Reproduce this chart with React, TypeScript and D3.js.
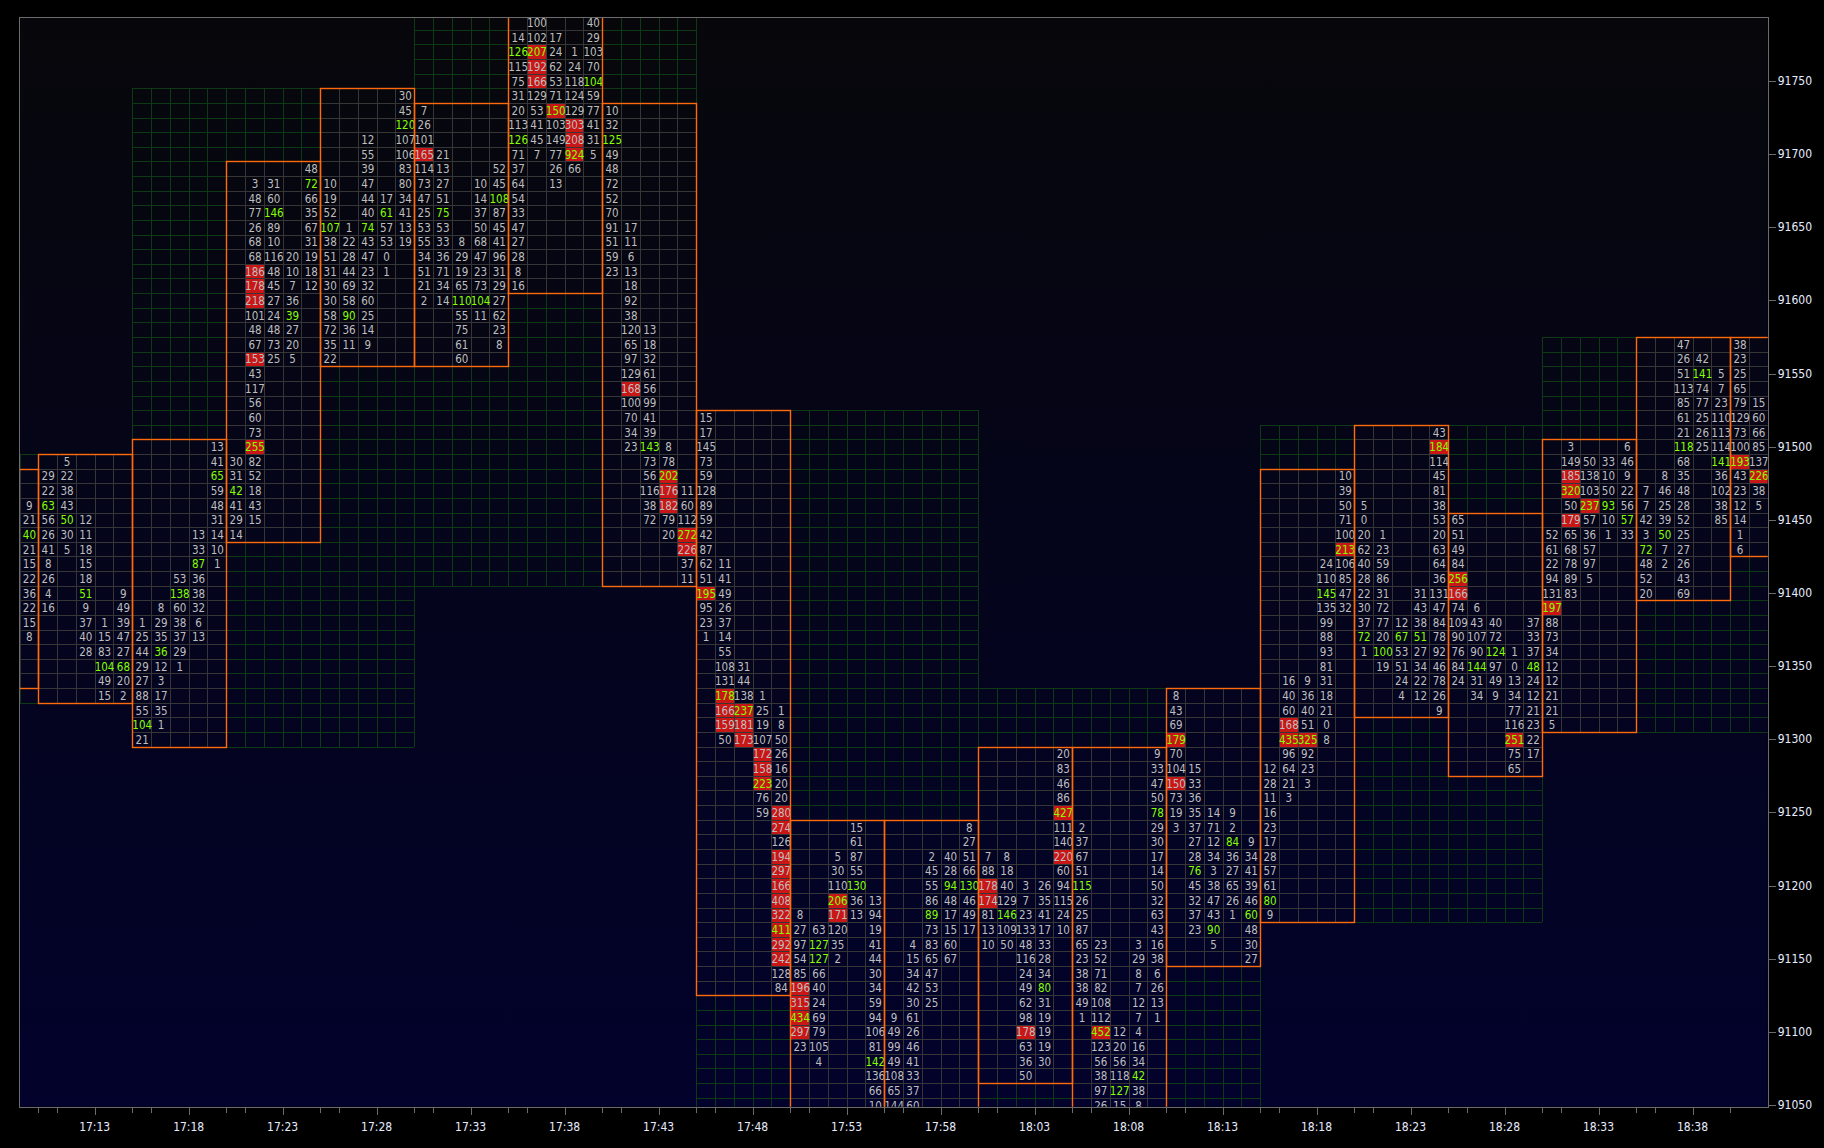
import React, { useEffect } from 'react';
import * as d3 from 'd3';

// ---------- DATA ----------
// minutes after 17:00 for axis domain (first visible minute column .. right edge)
const MINUTE_DOMAIN = [9, 102];
const PRICE_TICKS = [91050, 91100, 91150, 91200, 91250, 91300, 91350, 91400, 91450, 91500, 91550, 91600, 91650, 91700, 91750];

// 15-minute ranges (green grid): start minute, high, low
const BLOCK_STARTS = [0, 15, 30, 45, 60, 75, 90];
const BLOCK_HIGHS = [91490, 91740, 91800, 91520, 91330, 91510, 91570];
const BLOCK_LOWS = [91330, 91300, 91410, 91040, 91040, 91180, 91310];

// 5-minute footprint bars. Cells: "." empty, "+" green text, "*" red cell, "!" red cell + green text
const bar1705 = [
  '. . . . .', '. . . . .', '. . . . 9', '. . . . 21', '. . . . 40+', '. . . . 21', '. . . . 15', '. . . . 22',
  '. . . . 36', '. . . . 22', '. . . . 15', '. . . . 8', '. . . . .', '. . . . .', '. . . . .',
];
const bar1710 = [
  '. 5 . . .', '29 22 . . .', '22 38 . . .', '63+ 43 . . .', '56 50+ 12 . .', '26 30 11 . .', '41 5 18 . .',
  '8 . 15 . .', '26 . 18 . .', '4 . 51+ . 9', '16 . 9 . 49', '. . 37 1 39', '. . 40 15 47', '. . 28 83 27',
  '. . . 104+ 68+', '. . . 49 20', '. . . 15 2',
];
const bar1715 = [
  '. . . . 13', '. . . . 41', '. . . . 65+', '. . . . 59', '. . . . 48', '. . . . 31', '. . . 13 14', '. . . 33 10',
  '. . . 87+ 1', '. . 53 36 .', '. . 138+ 38 .', '. 8 60 32 .', '1 29 38 6 .', '25 35 37 13 .', '44 36+ 29 . .',
  '29 12 1 . .', '27 3 . . .', '88 17 . . .', '55 35 . . .', '104+ 1 . . .', '21 . . . .',
];
const bar1720 = [
  '. . . . 48', '. 3 31 . 72+', '. 48 60 . 66', '. 77 146+ . 35', '. 26 89 . 67', '. 68 10 . 31', '. 68 116 20 19',
  '. 186* 48 10 18', '. 178* 45 7 12', '. 218* 27 36 .', '. 101 24 39+ .', '. 48 48 27 .', '. 67 73 20 .',
  '. 153* 25 5 .', '. 43 . . .', '. 117 . . .', '. 56 . . .', '. 60 . . .', '. 73 . . .', '. 255! . . .',
  '30 82 . . .', '31 52 . . .', '42+ 18 . . .', '41 43 . . .', '29 15 . . .', '14 . . . .',
];
const bar1725 = [
  '. . . . 30', '. . . . 45', '. . . . 120+', '. . 12 . 107', '. . 55 . 106', '. . 39 . 83', '10 . 47 . 80',
  '19 . 44 17 34', '52 . 40 61+ 41', '107+ 1 74+ 57 13', '38 22 43 53 19', '51 28 47 0 .', '31 44 23 1 .',
  '30 69 32 . .', '30 58 60 . .', '58 90+ 25 . .', '72 36 14 . .', '35 11 9 . .', '22 . . . .',
];
const bar1730 = [
  '7 . . . .', '26 . . . .', '101 . . . .', '165* 21 . . .', '114 13 . . 52', '73 27 . 10 45', '47 51 . 14 108+',
  '25 75+ . 37 87', '53 53 . 50 45', '55 33 8 68 41', '34 36 29 47 96', '51 71 19 23 31', '21 34 65 73 29',
  '2 14 110+ 104+ 27', '. . 55 11 62', '. . 75 . 23', '. . 61 . 8', '. . 60 . .',
];
const bar1735 = [
  '. . . . .', '. 100 . . 40', '14 102 17 . 29', '126+ 207! 24 1 103', '115 192* 62 24 70', '75 166* 53 118 104+',
  '31 129 71 124 59', '20 53 150! 129 77', '113 41 103 303* 41', '126+ 45 149 208* 31', '71 7 77 924! 5',
  '37 . 26 66 .', '64 . 13 . .', '54 . . . .', '33 . . . .', '47 . . . .', '27 . . . .', '28 . . . .',
  '8 . . . .', '16 . . . .',
];
const bar1740 = [
  '10 . . . .', '32 . . . .', '125+ . . . .', '49 . . . .', '48 . . . .', '72 . . . .', '52 . . . .', '70 . . . .',
  '91 17 . . .', '51 11 . . .', '59 6 . . .', '23 13 . . .', '. 18 . . .', '. 92 . . .', '. 38 . . .',
  '. 120 13 . .', '. 65 18 . .', '. 97 32 . .', '. 129 61 . .', '. 168* 56 . .', '. 100 99 . .', '. 70 41 . .',
  '. 34 39 . .', '. 23 143+ 8 .', '. . 73 78 .', '. . 56 202! .', '. . 116 176* 11', '. . 38 182* 60',
  '. . 72 79 112', '. . . 20 272!', '. . . . 226*', '. . . . 37', '. . . . 11',
];
const bar1745 = [
  '15 . . . .', '17 . . . .', '145 . . . .', '73 . . . .', '59 . . . .', '128 . . . .', '89 . . . .', '59 . . . .',
  '42 . . . .', '87 . . . .', '62 11 . . .', '51 41 . . .', '195! 49 . . .', '95 26 . . .', '23 37 . . .',
  '1 14 . . .', '. 55 . . .', '. 108 31 . .', '. 131 44 . .', '. 178! 138 1 .', '. 166* 237! 25 1',
  '. 159* 181* 19 8', '. 50 173* 107 50', '. . . 172* 26', '. . . 158* 16', '. . . 223! 20', '. . . 76 20',
  '. . . 59 280*', '. . . . 274*', '. . . . 126', '. . . . 194*', '. . . . 297*', '. . . . 166*', '. . . . 408*',
  '. . . . 322*', '. . . . 411!', '. . . . 292*', '. . . . 242*', '. . . . 128', '. . . . 84',
];
const bar1750 = [
  '. . . 15 .', '. . . 61 .', '. . 5 87 .', '. . 30 55 .', '. . 110 130+ .', '. . 206! 36 13', '8 . 171* 13 94',
  '27 63 120 . 19', '97 127+ 35 . 41', '54 127+ 2 . 44', '85 66 . . 30', '196* 40 . . 34', '315* 24 . . 59',
  '434! 69 . . 94', '297* 79 . . 106', '23 105 . . 81', '. 4 . . 142+', '. . . . 136', '. . . . 66', '. . . . 10',
  '. . . . .',
];
const bar1755 = [
  '. . . . 8', '. . . . 27', '. . 2 40 51', '. . 45 28 66', '. . 55 94+ 130+', '. . 86 48 46', '. . 89+ 17 49',
  '. . 73 15 17', '. 4 83 60 .', '. 15 65 67 .', '. 34 47 . .', '. 42 53 . .', '. 30 25 . .', '9 61 . . .',
  '49 26 . . .', '99 46 . . .', '49 41 . . .', '108 33 . . .', '65 37 . . .', '144 60 . . .', '. . . . .',
];
const bar1800 = [
  '. . . . 20', '. . . . 83', '. . . . 46', '. . . . 86', '. . . . 427!', '. . . . 111', '. . . . 140',
  '7 8 . . 220*', '88 18 . . 60', '178* 40 3 26 94', '174* 129 7 35 115', '81 146+ 23 41 24', '13 109 133 17 10',
  '10 50 48 33 .', '. . 116 28 .', '. . 24 34 .', '. . 49 80+ .', '. . 62 31 .', '. . 98 19 .', '. . 178* 19 .',
  '. . 63 19 .', '. . 36 30 .', '. . 50 . .',
];
const bar1805 = [
  '. . . . 9', '. . . . 33', '. . . . 47', '. . . . 50', '. . . . 78+', '2 . . . 29', '37 . . . 30', '67 . . . 17',
  '51 . . . 14', '115+ . . . 50', '26 . . . 32', '25 . . . 63', '87 . . . 43', '65 23 . 3 16', '23 52 . 29 38',
  '38 71 . 8 6', '38 82 . 7 26', '49 108 . 12 13', '1 112 . 7 1', '. 452! 12 4 .', '. 123 20 16 .', '. 56 56 34 .',
  '. 38 118 42+ .', '. 97 127+ 38 .', '. 26 15 8 .', '. . . . .',
];
const bar1810 = [
  '8 . . . .', '43 . . . .', '69 . . . .', '179! . . . .', '70 . . . .', '104 15 . . .', '150* 33 . . .',
  '73 36 . . .', '19 35 14 9 .', '3 37 71 2 .', '. 27 12 84+ 9', '. 28 34 36 34', '. 76+ 3 27 41', '. 45 38 65 39',
  '. 32 47 26 46', '. 37 43 1 60+', '. 23 90+ . 48', '. . 5 . 30', '. . . . 27',
];
const bar1815 = [
  '. . . . 10', '. . . . 39', '. . . . 50', '. . . . 71', '. . . . 100', '. . . . 213!', '. . . 24 106',
  '. . . 110 85', '. . . 145+ 47', '. . . 135 32', '. . . 99 .', '. . . 88 .', '. . . 93 .', '. . . 81 .',
  '. 16 9 31 .', '. 40 36 18 .', '. 60 40 21 .', '. 168* 51 0 .', '. 435! 325! 8 .', '. 96 92 . .',
  '12 64 23 . .', '28 21 3 . .', '11 3 . . .', '16 . . . .', '23 . . . .', '17 . . . .', '28 . . . .', '57 . . . .',
  '61 . . . .', '80+ . . . .', '9 . . . .',
];
const bar1820 = [
  '. . . . 43', '. . . . 184!', '. . . . 114', '. . . . 45', '. . . . 81', '5 . . . 38', '0 . . . 53',
  '20 1 . . 20', '62 23 . . 63', '40 59 . . 64', '28 86 . . 36', '22 31 . 31 131', '30 72 . 43 47',
  '37 77 12 38 84', '72+ 20 67+ 51+ 78', '1 100+ 53 27 92', '. 19 51 34 46', '. . 24 22 78', '. . 4 12 26',
  '. . . . 9',
];
const bar1825 = [
  '65 . . . .', '51 . . . .', '49 . . . .', '84 . . . .', '256! . . . .', '166* . . . .', '74 6 . . .',
  '109 43 40 . 37', '90 107 72 . 33', '76 90 124+ 1 37', '84 144+ 97 0 48+', '24 31 49 13 24', '. 34 9 34 12',
  '. . . 77 21', '. . . 116 23', '. . . 251! 22', '. . . 75 17', '. . . 65 .',
];
const bar1830 = [
  '. 3 . . 6', '. 149 50 33 46', '. 185* 138 10 9', '. 320! 103 50 22', '. 50 237! 93+ 56', '. 179* 57 10 57+',
  '52 65 36 1 33', '61 68 57 . .', '22 78 97 . .', '94 89 5 . .', '131 83 . . .', '197! . . . .', '88 . . . .',
  '73 . . . .', '34 . . . .', '12 . . . .', '12 . . . .', '21 . . . .', '21 . . . .', '5 . . . .',
];
const bar1835 = [
  '. . 47 . .', '. . 26 42 .', '. . 51 141+ 5', '. . 113 74 7', '. . 85 77 23', '. . 61 25 110', '. . 21 26 113',
  '. . 118+ 25 114', '. . 68 . 141+', '. 8 35 . 36', '7 46 48 . 102', '7 25 28 . 38', '42 39 52 . 85',
  '3 50+ 25 . .', '72+ 7 27 . .', '48 2 26 . .', '52 . 43 . .', '20 . 69 . .',
];
const bar1840 = [
  '38 . . . .', '23 . . . .', '25 . . . .', '65 . . . .', '79 15 . . .', '129 60 . . .', '73 66 . . .',
  '100 85 . . .', '193! 137 . . .', '43 226! . . .', '23 38 . . .', '12 5 . . .', '14 . . . .', '1 . . . .',
  '6 . . . .',
];

const BAR_STARTS = [5, 10, 15, 20, 25, 30, 35, 40, 45, 50, 55, 60, 65, 70, 75, 80, 85, 90, 95, 100];
const BAR_HIGHS = [91480, 91490, 91500, 91690, 91740, 91730, 91800, 91730, 91520, 91240, 91240, 91290, 91290, 91330, 91480, 91510, 91450, 91500, 91570, 91570];
const BAR_LOWS = [91340, 91330, 91300, 91440, 91560, 91560, 91610, 91410, 91130, 91040, 91040, 91070, 91040, 91150, 91180, 91320, 91280, 91310, 91400, 91430];
const BAR_ROWS = [bar1705, bar1710, bar1715, bar1720, bar1725, bar1730, bar1735, bar1740, bar1745, bar1750, bar1755, bar1800, bar1805, bar1810, bar1815, bar1820, bar1825, bar1830, bar1835, bar1840];

// ---------- LAYOUT ----------
const W = 1824;
const H = 1148;
const PLOT_TOP = 17;
const PLOT_BOTTOM = 1106.7;
const x = d3.scaleLinear().domain(MINUTE_DOMAIN).range([19.5, 1767.7]);
const y = d3.scaleLinear().domain([91050, 91750]).range([1105, 81]);
const PLOT_LEFT = x(MINUTE_DOMAIN[0]);
const PLOT_RIGHT = x(MINUTE_DOMAIN[1]);

const FONT = '"DejaVu Sans Condensed", "Liberation Sans", Arial, sans-serif';
const C_TEXT = '#bebebe';
const C_GREEN = '#84ff00';
const C_RED = '#c91616';
const C_ORANGE = '#ff6a0a';
const C_GRID_GREEN = '#0d3a14';
const C_GRID_GRAY = '#363636';
const C_AXIS = '#6b6b6b';
const C_LABEL = '#e6ecff';

const crisp = (v: number) => Math.round(v) + 0.5;
const timeLabel = (m: number) => `${17 + Math.floor(m / 60)}:${String(m % 60).padStart(2, '0')}`;

type Cell = { m: number; p: number; text: string; green: boolean; red: boolean };

function parseBars() {
  const cells: Cell[] = [];
  BAR_ROWS.forEach((rows, bi) => {
    rows.forEach((row, ri) => {
      const p = BAR_HIGHS[bi] - 10 * ri;
      row.split(' ').forEach((tok, ci) => {
        if (tok === '.') return;
        const last = tok[tok.length - 1];
        let text = tok;
        let green = false;
        let red = false;
        if (last === '+') { green = true; text = tok.slice(0, -1); }
        else if (last === '*') { red = true; text = tok.slice(0, -1); }
        else if (last === '!') { red = true; green = true; text = tok.slice(0, -1); }
        cells.push({ m: BAR_STARTS[bi] + ci, p, text, green, red });
      });
    });
  });
  return cells;
}

function gridLines(start: number, span: number, hi: number, lo: number, color: string, key: string) {
  const lines: React.ReactElement[] = [];
  const yTop = y(hi + 5);
  const yBot = y(lo - 5);
  for (let m = start; m <= start + span; m++) {
    const xx = crisp(x(m));
    lines.push(<line key={`${key}v${m}`} x1={xx} x2={xx} y1={yTop} y2={yBot} stroke={color} strokeWidth={1} />);
  }
  for (let p = hi + 5; p >= lo - 5; p -= 10) {
    const yy = crisp(y(p));
    lines.push(<line key={`${key}h${p}`} x1={x(start)} x2={x(start + span)} y1={yy} y2={yy} stroke={color} strokeWidth={1} />);
  }
  return lines;
}

export default function App() {
  useEffect(() => {
    document.body.style.margin = '0';
    document.body.style.background = '#000';
  }, []);

  const cells = parseBars();
  const xTicks: number[] = [];
  for (let m = 10; m <= 100; m++) {
    const r = m % 5;
    if (r === 0 || r === 1 || r === 3) xTicks.push(m);
  }

  return (
    <svg width={W} height={H} style={{ position: 'absolute', left: 0, top: 0, display: 'block' }} fontFamily={FONT}>
      <defs>
        <linearGradient id="bg" x1="0" y1="0" x2="0" y2="1">
          <stop offset="0" stopColor="#07070b" />
          <stop offset="1" stopColor="#02022c" />
        </linearGradient>
        <clipPath id="plotClip">
          <rect x={PLOT_LEFT} y={PLOT_TOP} width={PLOT_RIGHT - PLOT_LEFT} height={PLOT_BOTTOM - PLOT_TOP} />
        </clipPath>
      </defs>
      <rect x={0} y={0} width={W} height={H} fill="#000" />
      <rect x={PLOT_LEFT} y={PLOT_TOP} width={PLOT_RIGHT - PLOT_LEFT} height={PLOT_BOTTOM - PLOT_TOP} fill="url(#bg)" />

      <g clipPath="url(#plotClip)">
        <g shapeRendering="crispEdges">
          {BLOCK_STARTS.map((s, i) => gridLines(s, 15, BLOCK_HIGHS[i], BLOCK_LOWS[i], C_GRID_GREEN, `b${i}`))}
          {BAR_STARTS.map((s, i) => gridLines(s, 5, BAR_HIGHS[i], BAR_LOWS[i], C_GRID_GRAY, `k${i}`))}
        </g>
        <g shapeRendering="crispEdges">
          {cells.filter((c) => c.red).map((c, i) => (
            <rect key={`r${i}`} x={Math.round(x(c.m)) + 1} y={Math.round(y(c.p + 5)) + 1}
              width={Math.round(x(c.m + 1)) - Math.round(x(c.m)) - 1}
              height={Math.round(y(c.p - 5)) - Math.round(y(c.p + 5)) - 1} fill={C_RED} />
          ))}
        </g>
        <g fontSize={11.5} textAnchor="middle">
          {cells.map((c, i) => (
            <text key={`t${i}`} x={(x(c.m) + x(c.m + 1)) / 2 + 0.5} y={y(c.p) + 0.5} dominantBaseline="central"
              fill={c.green ? C_GREEN : C_TEXT}>{c.text}</text>
          ))}
        </g>
        <g fill="none" stroke={C_ORANGE} strokeWidth={1.4}>
          {BAR_STARTS.map((s, i) => (
            <rect key={`o${i}`} x={crisp(x(s))} y={crisp(y(BAR_HIGHS[i] + 5))}
              width={crisp(x(s + 5)) - crisp(x(s))} height={crisp(y(BAR_LOWS[i] - 5)) - crisp(y(BAR_HIGHS[i] + 5))} />
          ))}
        </g>
      </g>

      {/* frame */}
      <rect x={crisp(PLOT_LEFT) - 1} y={crisp(PLOT_TOP)} width={crisp(PLOT_RIGHT) - crisp(PLOT_LEFT) + 1}
        height={crisp(PLOT_BOTTOM) - crisp(PLOT_TOP)} fill="none" stroke={C_AXIS} strokeWidth={1} shapeRendering="crispEdges" />

      {/* price axis */}
      <g fontSize={12} fill={C_LABEL}>
        {PRICE_TICKS.map((p) => (
          <g key={`yt${p}`}>
            <line x1={crisp(PLOT_RIGHT)} x2={crisp(PLOT_RIGHT) + 7} y1={crisp(y(p))} y2={crisp(y(p))} stroke={C_AXIS} shapeRendering="crispEdges" />
            <text x={PLOT_RIGHT + 10} y={y(p)} dominantBaseline="central">{p}</text>
          </g>
        ))}
      </g>

      {/* time axis */}
      <g fontSize={12} fill={C_LABEL} textAnchor="middle">
        {xTicks.map((m) => {
          const major = m % 5 === 3;
          const xx = crisp(x(m));
          return (
            <g key={`xt${m}`}>
              <line x1={xx} x2={xx} y1={crisp(PLOT_BOTTOM)} y2={crisp(PLOT_BOTTOM) + (major ? 7 : 5)} stroke={C_AXIS} shapeRendering="crispEdges" />
              {major && <text x={x(m)} y={1127} dominantBaseline="central">{timeLabel(m)}</text>}
            </g>
          );
        })}
      </g>
    </svg>
  );
}
